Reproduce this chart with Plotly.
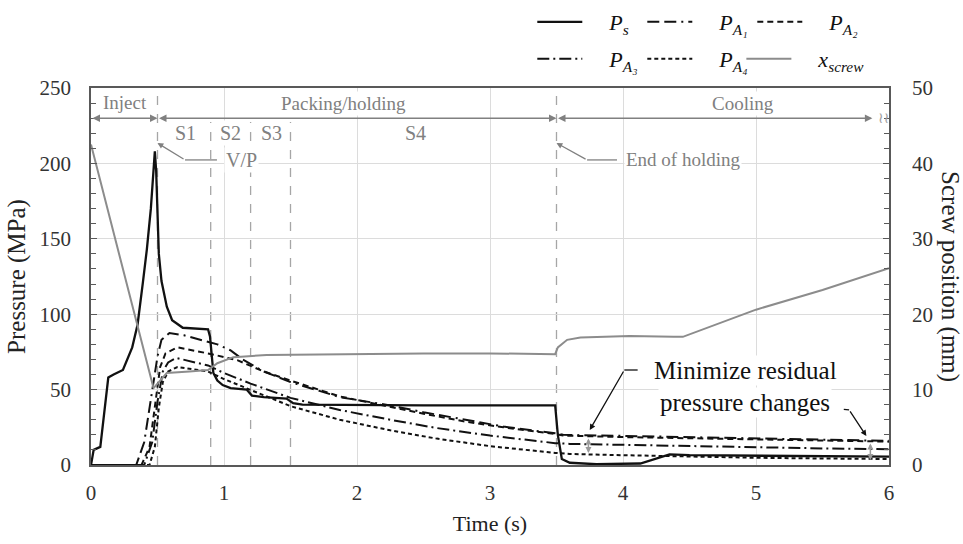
import plotly.graph_objects as go

# ---- measured series (time in s, pressure in MPa, screw position in mm) ----
t_ps = [0, 0.02, 0.07, 0.13, 0.17, 0.24, 0.31, 0.35, 0.39, 0.42, 0.45, 0.47, 0.48,
        0.49, 0.50, 0.51, 0.53, 0.57, 0.61, 0.69, 0.88, 0.895, 0.92, 0.95, 0.99,
        1.05, 1.17, 1.21, 1.30, 1.47, 1.52, 1.59, 2.5, 3.49, 3.51, 3.54, 3.6, 3.8,
        4.13, 4.25, 4.35, 4.5, 5.0, 6.0]
p_s = [0, 10, 12, 58, 60, 63, 78, 93, 121, 143, 170, 195, 208,
       195, 160, 140, 122, 105, 96, 91, 90, 85, 61, 56, 53,
       51, 50, 46, 45, 44, 41, 40, 39.5, 39.5, 20, 4, 1.5, 0.5,
       1, 4, 7, 6.5, 6, 5.5]

t_a1 = [0, 0.34, 0.40, 0.45, 0.50, 0.53, 0.59, 0.70, 0.88, 0.95, 1.05, 1.14, 1.30,
        1.50, 1.87, 2.25, 2.50, 2.80, 3.10, 3.49, 3.55, 4.0, 4.5, 5.0, 5.5, 6.0]
p_a1 = [0, 0, 15, 45, 72, 83, 87.5, 86, 82, 80, 76, 70, 62,
        55, 45, 39.5, 35, 30, 25.5, 21, 20, 19.3, 18.5, 17.5, 16.8, 16]

t_a2 = [0, 0.38, 0.44, 0.48, 0.52, 0.56, 0.65, 0.88, 1.10, 1.30, 1.50, 1.87, 2.25,
        2.50, 2.80, 3.10, 3.49, 3.55, 4.0, 4.5, 5.0, 5.5, 6.0]
p_a2 = [0, 0, 12, 40, 65, 74, 78, 74, 69.5, 62, 56, 45.5, 38.5,
        34, 29, 25, 20.5, 19.5, 18.5, 17.8, 17, 16.3, 15.5]

t_a3 = [0, 0.40, 0.46, 0.50, 0.54, 0.58, 0.64, 0.88, 1.00, 1.20, 1.50, 1.87, 2.25,
        2.60, 3.00, 3.49, 3.60, 4.0, 4.5, 5.0, 5.5, 6.0]
p_a3 = [0, 0, 15, 42, 62, 68, 71, 66, 61, 54, 44.5, 36.5, 30,
        24.5, 19.5, 14.5, 14, 13.3, 12.5, 11.8, 11, 10.5]

t_a4 = [0, 0.44, 0.48, 0.51, 0.54, 0.58, 0.65, 0.88, 1.00, 1.20, 1.50, 1.87, 2.25,
        2.60, 3.00, 3.49, 3.60, 4.0, 4.5, 5.0, 5.5, 6.0]
p_a4 = [0, 0, 12, 38, 55, 62, 65, 62, 57, 50, 39, 30, 23,
        17.5, 12.5, 8, 7.3, 6.5, 5.5, 4.8, 4.3, 4]

t_screw = [0, 0.47, 0.50, 0.57, 0.74, 0.88, 0.95, 1.07, 1.32, 1.75, 2.5, 3.0, 3.49,
           3.51, 3.58, 3.68, 4.05, 4.38, 4.45, 5.0, 5.5, 6.0]
x_screw = [42.5, 10.2, 10.8, 12.2, 12.4, 12.6, 13.5, 14.3, 14.6, 14.7, 14.8, 14.8, 14.7,
           15.6, 16.6, 16.9, 17.1, 17.0, 17.0, 20.6, 23.2, 26.1]

# phase boundaries (s)
t_vp = 0.5
t_stages = [0.9, 1.2, 1.5]
t_end_hold = 3.5
t_end = 6.0

SERIF = "Liberation Serif"
GRAY = "#808080"
BLACK = "#111111"
SP = "\u2003"  # gap between legend sample and its label

fig = go.Figure()

series = [
    ("<i>P<sub>s</sub></i>", t_ps, p_s, "solid", 2.3, "legend"),
    ("<i>P<sub>A₁</sub></i>", t_a1, p_a1, "12px,5px,12px,5px,2px,5px", 2, "legend"),
    ("<i>P<sub>A₂</sub></i>", t_a2, p_a2, "6px,4px", 2, "legend"),
    ("<i>P<sub>A₃</sub></i>", t_a3, p_a3, "12px,4px,2px,4px", 2, "legend2"),
    ("<i>P<sub>A₄</sub></i>", t_a4, p_a4, "4px,3px", 2, "legend2"),
]
for name, tx, py, dash, lw, lg in series:
    fig.add_trace(go.Scatter(x=tx, y=py, mode="lines", name=SP + name, legend=lg,
                             line=dict(color=BLACK, width=lw, dash=dash)))

fig.add_trace(go.Scatter(x=t_screw, y=x_screw, mode="lines",
                         name=SP + "<i>x<sub>screw</sub></i>",
                         legend="legend3", yaxis="y2",
                         line=dict(color="#8c8c8c", width=2)))

# vertical phase/stage markers
shapes = []
for tv in [t_vp, t_end_hold]:
    shapes.append(dict(type="line", xref="x", yref="paper", x0=tv, x1=tv, y0=0, y1=1,
                       line=dict(color="#a6a6a6", width=1.3, dash="dash"), layer="between"))
for tv in t_stages:
    shapes.append(dict(type="line", xref="x", yref="paper", x0=tv, x1=tv, y0=0, y1=0.91,
                       line=dict(color="#a6a6a6", width=1.3, dash="dash"), layer="between"))
# leader segments for the callouts
shapes.append(dict(type="line", xref="x", yref="y", x0=0.707, x1=0.947, y0=202.3, y1=202.3,
                   line=dict(color=GRAY, width=1.3)))
shapes.append(dict(type="line", xref="x", yref="y", x0=3.73, x1=3.955, y0=202.3, y1=202.3,
                   line=dict(color=GRAY, width=1.3)))
shapes.append(dict(type="line", xref="x", yref="y", x0=4.01, x1=4.11, y0=63, y1=63,
                   line=dict(color=BLACK, width=1.3)))
shapes.append(dict(type="line", xref="x", yref="y", x0=5.66, x1=5.70, y0=36.9, y1=36.5,
                   line=dict(color=BLACK, width=1.3)))
fig.update_layout(shapes=shapes)

ann = []


def label(text, x, y, size=19, color=GRAY, bg="white"):
    ann.append(dict(text=text, x=x, y=y, xref="x", yref="y", showarrow=False,
                    font=dict(family=SERIF, size=size, color=color), bgcolor=bg, borderpad=1))


def arrow(x0, y0, x1, y1, color=GRAY, both=False, width=1.5, size=1.0):
    a = dict(text="", x=x1, y=y1, ax=x0, ay=y0, xref="x", yref="y", axref="x", ayref="y",
             showarrow=True, arrowhead=2, arrowsize=size, arrowwidth=width, arrowcolor=color,
             standoff=0, startstandoff=0)
    if both:
        a.update(arrowside="end+start", startarrowhead=2, startarrowsize=size)
    ann.append(a)


# phase spans
arrow(0, 230, t_vp, 230, both=True)
arrow(t_vp, 230, t_end_hold, 230, both=True)
arrow(t_end_hold, 230, 5.875, 230, both=True)
label("Inject", 0.256, 240.5)
label("Packing/holding", 1.895, 239.5)
label("Cooling", 4.9, 239.5)
ann.append(dict(text="≀≀", x=5.955, y=230, xref="x", yref="y", showarrow=False,
                font=dict(family="DejaVu Sans", size=15, color="#a0a0a0")))
for txt, tx in [("S1", 0.707), ("S2", 1.05), ("S3", 1.36), ("S4", 2.44)]:
    label(txt, tx, 220, size=20)

# V/P and end of holding callouts
arrow(0.707, 202.3, 0.5, 213.5, width=1.3, size=0.9)
label("V/P", 1.128, 202.3, size=20)
arrow(3.73, 202.3, 3.5, 213.5, width=1.3, size=0.9)
label("End of holding", 4.45, 202.3)

# residual pressure callout
label("Minimize residual", 4.92, 62.5, size=25, color=BLACK)
label("pressure changes", 4.92, 41.5, size=25, color=BLACK)
arrow(4.01, 63, 3.75, 23.2, color=BLACK, width=1.3, size=0.9)
arrow(5.70, 36.5, 5.83, 19.2, color=BLACK, width=1.3, size=0.9)
arrow(3.74, 18.6, 3.74, 8.0, color="#999999", both=True, width=1.5, size=0.8)
arrow(5.86, 15.3, 5.86, 3.3, color="#999999", both=True, width=1.5, size=0.8)

# right axis title reading top-to-bottom
ann.append(dict(text="Screw position (mm)", x=1.077, y=0.5, xref="paper", yref="paper",
                xanchor="center", yanchor="middle", showarrow=False, textangle=90,
                font=dict(family=SERIF, size=25, color="#222222")))
fig.update_layout(annotations=ann)

axis_line = "#595959"
tickfont = dict(family=SERIF, size=21, color="#333333")
legend_font = dict(family=SERIF, size=22, color="#111111")
legend_common = dict(orientation="h", xanchor="left", yanchor="middle",
                     entrywidth=50, entrywidthmode="pixels", itemwidth=45,
                     font=legend_font, bgcolor="rgba(0,0,0,0)")

fig.update_layout(
    width=963, height=544,
    margin=dict(l=91, r=74, t=88, b=79, autoexpand=False),
    paper_bgcolor="white", plot_bgcolor="white",
    font=dict(family=SERIF, color="#222222"),
    xaxis=dict(range=[0, t_end], dtick=1, showgrid=True, gridcolor="#dcdcdc", gridwidth=1,
               showline=True, linecolor=axis_line, linewidth=1.5, mirror=True,
               ticks="", tickfont=tickfont, zeroline=False, ticklabelstandoff=8,
               title=dict(text="Time (s)", font=dict(family=SERIF, size=22, color="#222222"),
                          standoff=12)),
    yaxis=dict(range=[0, 250], dtick=50, showgrid=True, gridcolor="#dcdcdc", gridwidth=1,
               showline=True, linecolor=axis_line, linewidth=1.5,
               ticks="inside", ticklen=6, tickcolor=axis_line,
               minor=dict(dtick=10, ticks="inside", ticklen=5, tickcolor=axis_line, showgrid=False),
               tickfont=tickfont, zeroline=False, ticklabelstandoff=14,
               title=dict(text="Pressure (MPa)", font=dict(family=SERIF, size=25, color="#222222"),
                          standoff=7)),
    yaxis2=dict(range=[0, 50], dtick=10, overlaying="y", side="right", showgrid=False,
                showline=True, linecolor=axis_line, linewidth=1.5,
                ticks="inside", ticklen=6, tickcolor=axis_line,
                minor=dict(dtick=2, ticks="inside", ticklen=5, tickcolor=axis_line),
                tickfont=tickfont, zeroline=False, ticklabelstandoff=17),
    legend=dict(x=0.553, y=1.175, **legend_common),
    legend2=dict(x=0.553, y=1.077, **legend_common),
    legend3=dict(x=0.815, y=1.077, orientation="h", xanchor="left", yanchor="middle",
                 itemwidth=45, font=legend_font, bgcolor="rgba(0,0,0,0)"),
)

fig.write_html("out.html")
